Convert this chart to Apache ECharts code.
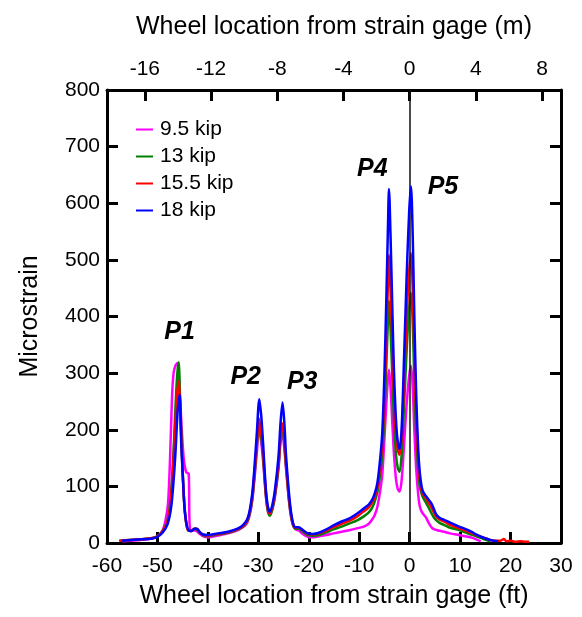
<!DOCTYPE html>
<html>
<head>
<meta charset="utf-8">
<script src="https://cdn.jsdelivr.net/npm/echarts@6/dist/echarts.min.js"></script>
<style>
  html, body { margin: 0; padding: 0; background: #fff; }
  #chart { width: 582px; height: 617px; }
</style>
</head>
<body>
<div id="chart"></div>
<script>
// series names, in legend order
const loadNames = ['9.5 kip', '13 kip', '15.5 kip', '18 kip'];
const loadColors = ['#ff00ff', '#008000', '#ff0000', '#0000ff'];

// [wheel location (ft), microstrain]
const kip95 = [[-57,3],[-54,5],[-51,8],[-50,12],[-49,22],[-48.4,40],[-47.9,70],[-47.5,150],[-47.1,260],[-46.8,300],[-46.4,314],[-46.0,318],[-45.7,285],[-45.3,220],[-44.8,150],[-44.3,125],[-43.8,122],[-43.65,40],[-43.4,22],[-42.7,22],[-42.2,21],[-41.6,16],[-41,12],[-40,10],[-38,13],[-36,17],[-34,23],[-33,28],[-32.2,36],[-31.7,50],[-31.2,75],[-30.8,110],[-30.3,160],[-29.9,200],[-29.5,182],[-29.1,150],[-28.5,82],[-28.1,56],[-27.7,50],[-27.2,60],[-26.7,82],[-26.0,132],[-25.6,180],[-25.3,198],[-24.9,172],[-24.5,130],[-23.8,64],[-23.2,33],[-22.6,24],[-22.0,22],[-21.2,16],[-20.2,11],[-19.2,10],[-18,12],[-16.5,14],[-15.1,17],[-13.5,20],[-11.8,23],[-10.4,26],[-9.1,29],[-8.1,34],[-7.4,42],[-6.9,50],[-6.4,64],[-5.8,95],[-5.4,124],[-5.0,185],[-4.6,250],[-4.3,290],[-4.1,306],[-3.8,275],[-3.4,205],[-3.1,155],[-2.7,112],[-2.35,95],[-2.0,91],[-1.6,110],[-1.1,175],[-0.6,245],[-0.1,295],[0.25,313],[0.6,275],[0.9,205],[1.3,130],[1.7,85],[2.0,65],[2.4,55],[2.8,50],[3.3,44],[3.8,35],[4.5,26],[5.3,23],[6.8,20],[8.0,17],[9.8,14],[11.0,12],[12.5,9],[13.3,6],[14.1,3]];

const kip13 = [[-57.5,4],[-54,6],[-51,9],[-50,12],[-49,21],[-48,40],[-47.4,78],[-46.9,145],[-46.5,225],[-46.1,295],[-45.8,319],[-45.5,250],[-45.1,150],[-44.7,72],[-44.3,35],[-43.9,22],[-43.3,21],[-42.7,25],[-42.2,24],[-41.6,18],[-41,14],[-40,12],[-38,15],[-36,18],[-34,24],[-33,29],[-32.2,38],[-31.7,52],[-31.2,78],[-30.8,115],[-30.3,170],[-29.9,212],[-29.5,192],[-29.1,158],[-28.5,84],[-28.1,56],[-27.7,48],[-27.2,60],[-26.7,84],[-26.0,135],[-25.6,185],[-25.3,205],[-24.9,180],[-24.5,135],[-23.8,66],[-23.2,34],[-22.6,25],[-22.0,25],[-21.2,20],[-20.2,14],[-19.2,13],[-18,14],[-16.5,19],[-15.1,24],[-13.5,29],[-11.8,35],[-10.4,40],[-9.1,47],[-8.1,54],[-7.4,63],[-6.9,74],[-6.4,90],[-5.8,125],[-5.4,160],[-5.0,230],[-4.6,320],[-4.3,395],[-4.1,428],[-3.8,380],[-3.4,285],[-3.1,215],[-2.7,155],[-2.35,132],[-2.0,126],[-1.6,155],[-1.1,245],[-0.6,340],[-0.1,415],[0.25,442],[0.6,390],[0.9,295],[1.3,190],[1.7,128],[2.0,100],[2.4,86],[2.8,78],[3.3,70],[3.8,62],[4.3,53],[4.8,45],[5.3,40],[6.0,35],[6.8,32],[8.0,27],[9.8,23],[11.0,19],[12.2,15],[13.2,12],[14.1,9],[15.2,5],[16.0,3]];

const kip155 = [[-57.6,4],[-54,6],[-51,9],[-50,12],[-49,20],[-48,38],[-47.4,72],[-46.9,135],[-46.5,205],[-46.1,262],[-45.8,285],[-45.5,235],[-45.1,145],[-44.7,72],[-44.3,35],[-43.9,22],[-43.3,21],[-42.7,25],[-42.2,25],[-41.6,19],[-41,15],[-40,13],[-38,16],[-36,19],[-34,25],[-33,30],[-32.2,40],[-31.7,55],[-31.2,82],[-30.8,120],[-30.3,175],[-29.9,220],[-29.5,200],[-29.1,165],[-28.5,88],[-28.1,60],[-27.7,52],[-27.2,64],[-26.7,88],[-26.0,140],[-25.6,190],[-25.3,212],[-24.9,185],[-24.5,140],[-23.8,70],[-23.2,36],[-22.6,27],[-22.0,27],[-21.2,22],[-20.2,16],[-19.2,15],[-18,17],[-16.5,22],[-15.1,28],[-13.5,34],[-11.8,40],[-10.4,47],[-9.1,56],[-8.1,63],[-7.4,72],[-6.9,82],[-6.4,98],[-5.8,140],[-5.4,180],[-5.0,260],[-4.6,370],[-4.3,460],[-4.1,509],[-3.8,450],[-3.4,340],[-3.1,260],[-2.7,190],[-2.35,164],[-2.0,156],[-1.6,185],[-1.1,290],[-0.6,400],[-0.1,480],[0.25,512],[0.6,450],[0.9,340],[1.3,220],[1.7,145],[2.0,112],[2.4,92],[2.8,84],[3.3,78],[3.8,70],[4.3,63],[4.8,54],[5.3,46],[6.0,41],[6.8,38],[8.0,32],[9.8,26],[11.0,22],[12.2,18],[13.2,14],[14.1,11],[14.8,9],[15.8,6],[16.8,4],[18.0,4],[18.7,7],[19.2,3],[20.0,4],[21.0,2],[22.0,3],[23.0,2],[23.7,2]];

const kip18 = [[-57,4],[-54,6],[-51,8],[-50,11],[-49,18],[-48,33],[-47.3,62],[-46.8,110],[-46.4,164],[-46.0,232],[-45.6,262],[-45.3,180],[-44.9,105],[-44.6,58],[-44.2,32],[-43.8,22],[-43.3,21],[-42.7,25],[-42.2,25],[-41.6,19],[-41,15],[-40,14],[-38,17],[-36,20],[-34,26],[-33,32],[-32.2,42],[-31.7,58],[-31.2,88],[-30.8,130],[-30.3,194],[-29.8,254],[-29.4,222],[-29.1,182],[-28.5,94],[-28.1,64],[-27.7,55],[-27.2,68],[-26.7,94],[-26.0,153],[-25.6,212],[-25.2,248],[-24.8,205],[-24.5,153],[-23.8,76],[-23.2,38],[-22.6,28],[-22.0,28],[-21.2,23],[-20.2,17],[-19.2,16],[-18,18],[-16.5,24],[-15.1,31],[-13.5,38],[-11.8,44],[-10.4,52],[-9.1,61],[-8.1,68],[-7.4,77],[-6.9,88],[-6.4,106],[-5.8,153],[-5.4,200],[-5.0,300],[-4.6,440],[-4.3,560],[-4.1,625],[-3.8,545],[-3.4,400],[-3.1,300],[-2.7,215],[-2.35,178],[-2.0,166],[-1.6,200],[-1.1,330],[-0.6,470],[-0.1,585],[0.25,630],[0.6,545],[0.9,410],[1.3,260],[1.7,165],[2.0,125],[2.4,98],[2.8,88],[3.3,82],[3.8,76],[4.3,70],[4.8,60],[5.3,50],[6.0,44],[6.8,41],[8.0,36],[9.8,29],[11.0,25],[12.2,20],[13.2,15],[14.1,11],[15.1,8],[16.1,5],[17.5,3]];

const loadData = [kip95, kip13, kip155, kip18];

// axis ranges and ticks
const ftMin = -60, ftMax = 30;
const ftToM = 0.3048;
const meterTicks = [-16, -12, -8, -4, 0, 4, 8];

// peak annotations [ft, microstrain]
const peakNames = ['P1', 'P2', 'P3', 'P4', 'P5'];
const peakCoords = [[-45.6, 373], [-32.5, 293], [-21.3, 285], [-7.4, 661], [6.6, 629]];

const font = 'Liberation Sans, Arial, sans-serif';
const axisLine = { show: true, onZero: false, lineStyle: { color: '#000', width: 3 } };
const tick = { show: true, inside: true, length: 11, lineStyle: { color: '#000', width: 3 } };

const chart = echarts.init(document.getElementById('chart'));

const series = loadNames.map((name, i) => ({
  name,
  type: 'line',
  data: loadData[i],
  symbol: 'none',
  smooth: 0.3,
  lineStyle: { color: loadColors[i], width: 2.5 },
  itemStyle: { color: loadColors[i] },
  z: 2 + i,
}));

// vertical reference line at the gage
series[0].markLine = {
  silent: true,
  symbol: ['none', 'none'],
  label: { show: false },
  lineStyle: { color: '#111', width: 1.5, type: 'solid' },
  data: [{ xAxis: 0 }],
};

series[3].markPoint = {
  silent: true,
  symbol: 'circle',
  symbolSize: 0,
  label: {
    show: true,
    position: 'inside',
    formatter: '{b}',
    color: '#000',
    fontFamily: font,
    fontSize: 25,
    fontWeight: 'bold',
    fontStyle: 'italic',
  },
  data: peakNames.map((n, i) => ({ name: n, coord: peakCoords[i] })),
};

chart.setOption({
  animation: false,
  textStyle: { fontFamily: font },
  grid: { left: 107, right: 21, top: 90, bottom: 74 },
  legend: {
    orient: 'vertical',
    left: 131,
    top: 114,
    icon: 'rect',
    itemWidth: 17,
    itemHeight: 2,
    itemGap: 6,
    textStyle: { fontSize: 21, color: '#000', fontFamily: font, padding: [0, 0, 0, 2] },
    data: loadNames,
  },
  xAxis: [
    {
      type: 'value',
      position: 'bottom',
      min: ftMin,
      max: ftMax,
      interval: 10,
      name: 'Wheel location from strain gage (ft)',
      nameLocation: 'middle',
      nameGap: 41,
      nameTextStyle: { fontSize: 25, color: '#000', fontFamily: font },
      axisLine,
      axisTick: tick,
      splitLine: { show: false },
      axisLabel: { color: '#000', fontSize: 21, margin: 13, fontFamily: font },
    },
    {
      type: 'value',
      position: 'top',
      min: ftMin * ftToM,
      max: ftMax * ftToM,
      name: 'Wheel location from strain gage (m)',
      nameLocation: 'middle',
      nameGap: 50,
      nameTextStyle: { fontSize: 25, color: '#000', fontFamily: font },
      axisLine,
      axisTick: Object.assign({}, tick, { customValues: meterTicks }),
      splitLine: { show: false },
      axisLabel: { color: '#000', fontSize: 21, margin: 10, fontFamily: font, customValues: meterTicks },
    },
  ],
  yAxis: [
    {
      type: 'value',
      position: 'left',
      min: 0,
      max: 800,
      interval: 100,
      name: 'Microstrain',
      nameLocation: 'middle',
      nameGap: 64,
      nameTextStyle: { fontSize: 25, color: '#000', fontFamily: font },
      axisLine,
      axisTick: tick,
      splitLine: { show: false },
      axisLabel: { color: '#000', fontSize: 21, margin: 7, fontFamily: font },
    },
    {
      type: 'value',
      position: 'right',
      min: 0,
      max: 800,
      interval: 100,
      axisLine,
      axisTick: tick,
      splitLine: { show: false },
      axisLabel: { show: false },
    },
  ],
  series,
});
</script>
</body>
</html>
